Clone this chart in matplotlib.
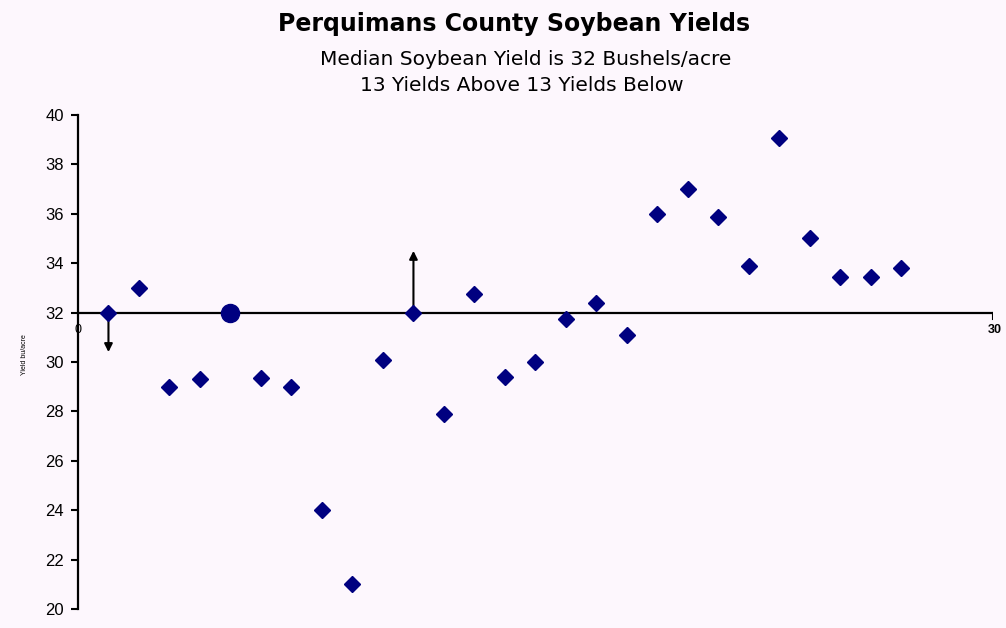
import matplotlib
matplotlib.use("Agg")
import matplotlib.pyplot as plt
from matplotlib import font_manager

years = list(range(1, 28))
yields = [32.0, 33.0, 29.0, 29.3, 32.0, 29.35, 29.0, 24.0, 21.0, 30.1,
          32.0, 27.9, 32.75, 29.4, 30.0, 31.75, 32.4, 31.1, 36.0, 37.0,
          35.85, 33.9, 39.05, 35.0, 33.45, 33.45, 33.8]
median_yield = 32
median_index = 5           # the median point drawn as a circle
arrow_down = (1, 30.4)     # arrow from point 1 down to this y
arrow_up = (11, 34.5)      # arrow from point 11 up to this y
yticks = list(range(20, 41, 2))
xticks = [0, 30]

title = "Perquimans County Soybean Yields"
sub1 = "Median Soybean Yield is 32 Bushels/acre"
sub2 = "13 Yields Above 13 Yields Below"

plt.rcParams['font.family'] = ["Liberation Sans", "DejaVu Sans"]

bg = "#fdf7fd"
navy = "#000080"

fig = plt.figure(figsize=(10.06, 6.28), dpi=100, facecolor=bg)
ax = fig.add_axes([0.0775, 0.0303, 0.9095, 0.7866])
ax.set_facecolor(bg)

ax.set_xlim(0, 30)
ax.set_ylim(20, 40)

for s in ["top", "right", "bottom"]:
    ax.spines[s].set_visible(False)
ax.spines["left"].set_linewidth(1.6)

ax.axhline(median_yield, color="black", lw=1.6, zorder=1)

ax.set_yticks(yticks)
ax.set_yticklabels([str(v) for v in yticks], fontsize=12)
ax.tick_params(axis="y", direction="out", length=5, width=1.5, pad=5)
ax.set_xticks([])

# x-axis labels positioned on the median line
ax.text(0, median_yield - 0.45, str(xticks[0]), ha="center", va="top", fontsize=9)
ax.text(30.05, median_yield - 0.45, str(xticks[1]), ha="center", va="top", fontsize=9, fontweight="bold")
ax.plot([30, 30], [median_yield, median_yield - 0.25], color="black", lw=1.5)

# arrows
ax.annotate("", xy=(arrow_down[0], arrow_down[1]), xytext=(arrow_down[0], median_yield),
            arrowprops=dict(arrowstyle="-|>", color="black", lw=1.5, mutation_scale=12, shrinkA=0, shrinkB=0), zorder=2)
ax.annotate("", xy=(arrow_up[0], arrow_up[1]), xytext=(arrow_up[0], median_yield),
            arrowprops=dict(arrowstyle="-|>", color="black", lw=1.5, mutation_scale=12, shrinkA=0, shrinkB=0), zorder=2)

xs = [x for x in years if x != median_index]
ys = [y for x, y in zip(years, yields) if x != median_index]
ax.plot(xs, ys, linestyle="none", marker="D", markersize=8, color=navy, zorder=3)
ax.plot([median_index], [yields[median_index - 1]], linestyle="none", marker="o",
        markersize=13, color=navy, zorder=3)

fig.text(0.511, 0.962, title, ha="center", va="center", fontsize=17, fontweight="bold", family="DejaVu Sans")
fig.text(0.523, 0.906, sub1, ha="center", va="center", fontsize=14.5, family="DejaVu Sans")
fig.text(0.519, 0.864, sub2, ha="center", va="center", fontsize=14.5, family="DejaVu Sans")

fig.text(0.024, 0.435, "Yield bu/acre", rotation=90, ha="center", va="center", fontsize=5)

fig.savefig("out.png", dpi=100, facecolor=bg)
